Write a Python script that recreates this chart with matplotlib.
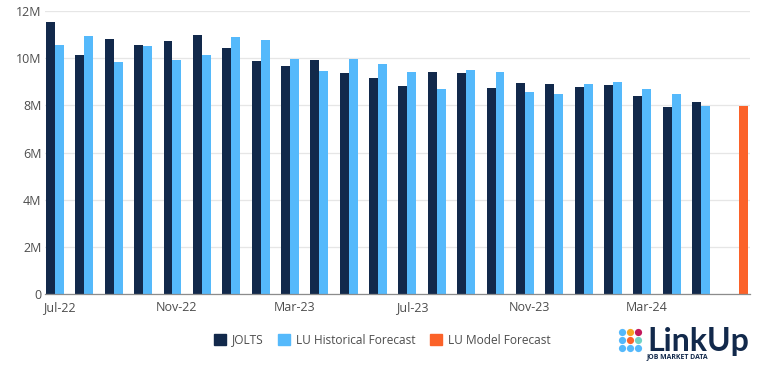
"""LinkUp vs JOLTS job openings, monthly grouped bars."""

import matplotlib

matplotlib.use("Agg")
import matplotlib.pyplot as plt
from matplotlib.patches import Patch
import numpy as np

plt.rcParams["font.family"] = ["Open Sans", "DejaVu Sans"]

W, H = 768, 368

# ---------------------------------------------------------------------------
# Data (millions)
# ---------------------------------------------------------------------------

tick_labels = ["Jul-22", "Nov-22", "Mar-23", "Jul-23", "Nov-23", "Mar-24"]
tick_index = [0, 4, 8, 12, 16, 20]
jolts = [
    11.55, 10.15, 10.80, 10.55, 10.72, 11.00, 10.45, 9.87, 9.65, 9.92, 9.35, 9.15,
    8.82, 9.40, 9.35, 8.72, 8.95, 8.90, 8.77, 8.85, 8.40, 7.93, 8.15,
]
lu_historical = [
    10.55, 10.95, 9.83, 10.50, 9.93, 10.15, 10.90, 10.75, 9.97, 9.45, 9.97, 9.75,
    9.40, 8.70, 9.50, 9.42, 8.58, 8.50, 8.90, 8.97, 8.70, 8.48, 7.98,
]
lu_model_index = [23]
lu_model = [7.98]
y_ticks = [0, 2, 4, 6, 8, 10, 12]
y_labels = ["0", "2M", "4M", "6M", "8M", "10M", "12M"]

NAVY = "#12294b"
SKY = "#55b9fb"
ORANGE = "#fb6229"
GREY = "#4d4d4d"
BAR_W = 0.305

# ---------------------------------------------------------------------------
# Chart
# ---------------------------------------------------------------------------

fig = plt.figure(figsize=(W / 100, H / 100), dpi=100, facecolor="white")
ax = fig.add_axes([44.8 / W, 1 - 294 / H, 704.8 / W, 283 / H])

x = np.arange(len(jolts))
ax.bar(x - BAR_W, jolts, BAR_W, color=NAVY, zorder=3)
ax.bar(x, lu_historical, BAR_W, color=SKY, zorder=3)
ax.bar(np.array(lu_model_index) + BAR_W, lu_model, BAR_W, color=ORANGE, zorder=3)

ax.set_xlim(-0.5, 23.5)
ax.set_ylim(0, 12)
ax.set_yticks(y_ticks)
ax.set_yticklabels(y_labels)
ax.set_xticks(tick_index)
ax.set_xticklabels(tick_labels)
ax.tick_params(axis="both", length=0, labelsize=9, labelcolor=GREY)
ax.tick_params(axis="x", pad=5)
ax.tick_params(axis="y", pad=2.5)
ax.grid(axis="y", color="#e6e6e6", linewidth=0.9, zorder=0)
ax.set_axisbelow(True)
for side in ("top", "right", "left"):
    ax.spines[side].set_visible(False)
ax.spines["bottom"].set_color("#8c8c8c")
ax.spines["bottom"].set_linewidth(0.9)
ax.spines["bottom"].set_zorder(4)

handles = [
    Patch(color=NAVY, label="JOLTS"),
    Patch(color=SKY, label="LU Historical Forecast"),
    Patch(color=ORANGE, label="LU Model Forecast"),
]
fig.legend(
    handles=handles,
    loc="center left",
    bbox_to_anchor=(214 / W, 1 - 340 / H),
    ncol=3,
    frameon=False,
    fontsize=8.6,
    labelcolor=GREY,
    handlelength=1.0,
    handleheight=1.0,
    handletextpad=0.5,
    columnspacing=1.2,
    borderpad=0,
    borderaxespad=0,
)

# --- logo ---
logo = fig.add_axes([0, 0, 1, 1], facecolor="none")
logo.set_xlim(0, W)
logo.set_ylim(H, 0)
logo.axis("off")
dot_colors = [
    ["#55b9fb", "#f5a623", "#c2185b"],
    ["#55b9fb", "#fb6229", "#6fd3c4"],
    ["#55b9fb", "#55b9fb", "#55b9fb"],
]
for row, colors in enumerate(dot_colors):
    for col, c in enumerate(colors):
        logo.scatter(622 + 8 * col, 332 + 8 * row, s=27, color=c, linewidths=0)
logo.text(647, 351, "LinkUp", fontsize=23, fontweight="bold", color=NAVY,
          family="Lato", va="baseline", ha="left")
logo.text(647, 356.5, "JOB MARKET DATA", fontsize=4.95, fontweight="bold", color=NAVY,
          va="center", ha="left")

fig.savefig("out.png", dpi=100, facecolor="white")
